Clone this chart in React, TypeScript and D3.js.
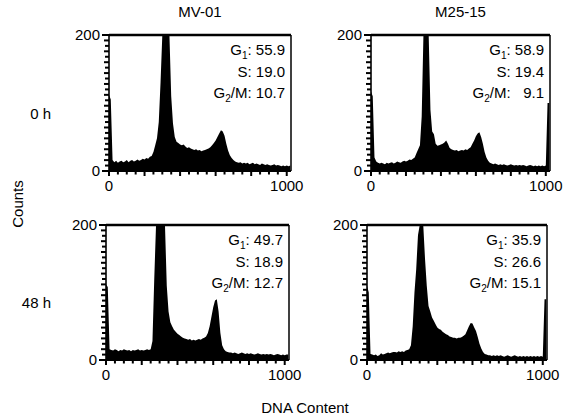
import React from "react";
import * as d3 from "d3";

// ---------- data ----------
const columnTitles = ["MV-01", "M25-15"];
const rowLabels = ["0 h", "48 h"];
const yTickLabels = ["0", "200"];
const xTickLabels = ["0", "1000"];
const binWidth = 10; // channel width of each histogram bin

const mv01_0h = [
  112, 105, 16, 13, 15, 12, 14, 15, 13, 14,
  16, 13, 15, 16, 14, 15, 17, 15, 16, 18,
  17, 19, 18, 21, 22, 28, 38, 48, 72, 130,
  210, 260, 280, 270, 230, 110, 70, 50, 43, 41,
  39, 38, 39, 36, 34, 35, 33, 32, 31, 32,
  30, 31, 29, 30, 31, 32, 33, 35, 38, 41,
  45, 50, 55, 60, 58, 52, 40, 30, 23, 19,
  16, 14, 13, 12, 13, 11, 12, 11, 12, 10,
  11, 12, 10, 11, 10, 9, 11, 10, 9, 10,
  9, 8, 9, 10, 8, 9, 8, 7, 8, 7,
  8, 7, 8,
];
const m2515_0h = [
  117, 110, 20, 14, 12, 11, 12, 11, 10, 12,
  11, 12, 13, 11, 12, 14, 13, 12, 14, 15,
  14, 15, 17, 16, 18, 20, 26, 32, 38, 80,
  220, 280, 270, 240, 90, 58, 54, 40, 37, 38,
  39, 40, 42, 45, 40, 34, 32, 31, 30, 31,
  29, 30, 31, 30, 32, 31, 33, 35, 40, 45,
  51, 55, 57, 50, 40, 28, 20, 15, 12, 11,
  10, 11, 10, 9, 10, 9, 10, 9, 8, 9,
  10, 9, 8, 9, 8, 9, 8, 9, 8, 7,
  8, 9, 8, 7, 8, 7, 8, 7, 8, 7,
  8, 100, 100,
];
const mv01_48h = [
  112, 108, 16, 15, 14, 16, 15, 13, 15, 14,
  16, 15, 14, 15, 13, 15, 14, 15, 16, 14,
  15, 14, 15, 16, 15, 16, 28, 120, 210, 260,
  290, 300, 270, 200, 110, 72, 56, 50, 45, 42,
  39, 37, 35, 33, 32, 31, 30, 31, 29, 30,
  29, 30, 31, 30, 32, 33, 35, 40, 50, 64,
  78, 88, 90, 72, 40, 22, 16, 13, 12, 11,
  11, 10, 11, 10, 9, 10, 11, 10, 9, 10,
  9, 10, 9, 8, 9, 10, 9, 8, 9, 8,
  9, 8, 9, 8, 7, 8, 9, 8, 7, 8,
  7, 8, 8,
];
const m2515_48h = [
  110, 100, 9, 8, 7, 8, 6, 7, 10, 8,
  9, 10, 11, 10, 11, 12, 12, 11, 13, 12,
  13, 12, 14, 15, 16, 22, 50, 100, 135, 185,
  230, 260, 240, 150, 110, 80, 72, 63, 58, 53,
  48, 46, 45, 42, 40, 38, 37, 35, 34, 33,
  33, 32, 33, 33, 34, 36, 38, 44, 50, 55,
  54, 48, 43, 34, 24, 17, 12, 9, 8, 7,
  7, 6, 7, 6, 7, 6, 7, 6, 5, 6,
  7, 6, 5, 6, 7, 6, 5, 6, 5, 6,
  5, 6, 5, 6, 5, 6, 5, 6, 5, 6,
  5, 90, 90,
];

const g1Values = ["55.9", "58.9", "49.7", "35.9"];
const sValues = ["19.0", "19.4", "18.9", "26.6"];
const g2mValues = ["10.7", "9.1", "12.7", "15.1"];

// ---------- layout ----------
const W = 569;
const H = 420;
const FONT = "'Liberation Sans', Arial, Helvetica, sans-serif";

type Box = { left: number; right: number; top: number; bottom: number };
const boxes: Box[] = [
  { left: 109, right: 291, top: 35, bottom: 171 },
  { left: 371, right: 550, top: 35, bottom: 171 },
  { left: 106, right: 289, top: 225, bottom: 360 },
  { left: 367, right: 547, top: 225, bottom: 360 },
];
const series = [mv01_0h, m2515_0h, mv01_48h, m2515_48h];

function Panel({ box, values, idx }: { box: Box; values: number[]; idx: number }) {
  const x = d3.scaleLinear().domain([0, 1024]).range([box.left, box.right]);
  const y = d3.scaleLinear().domain([0, 200]).range([box.bottom, box.top]);
  const pts = values.map((v, i) => ({ ch: i * binWidth, v }));
  const area = d3
    .area<{ ch: number; v: number }>()
    .x((d) => x(d.ch))
    .y0(y(0))
    .y1((d) => y(Math.min(d.v, 200)))
    .curve(d3.curveLinear);
  const yTicks = d3.range(0, 201, 8);
  const xTicks = d3.range(0, 1001, 50);
  const clipId = `clip${idx}`;
  const tx = box.right - 6;
  return (
    <g>
      <defs>
        <clipPath id={clipId}>
          <rect x={box.left} y={box.top} width={box.right - box.left} height={box.bottom - box.top} />
        </clipPath>
      </defs>
      <path d={area(pts) || ""} fill="#000" clipPath={`url(#${clipId})`} />
      {/* frame */}
      <line x1={box.left} x2={box.right} y1={box.top} y2={box.top} stroke="#000" strokeWidth={2.4} />
      <line x1={box.right} x2={box.right} y1={box.top} y2={box.bottom} stroke="#000" strokeWidth={1.5} />
      {/* left axis */}
      <line x1={box.left} x2={box.left} y1={box.top} y2={box.bottom} stroke="#000" strokeWidth={1.6} />
      {yTicks.map((t, i) => (
        <line
          key={"y" + t}
          x1={box.left}
          x2={box.left - (t === 0 || t === 200 ? 7 : i % 2 === 0 ? 5 : 4)}
          y1={y(t)}
          y2={y(t)}
          stroke="#000"
          strokeWidth={2}
        />
      ))}
      {/* bottom axis */}
      <line x1={box.left} x2={box.right} y1={box.bottom} y2={box.bottom} stroke="#000" strokeWidth={2.2} />
      {xTicks.map((t) => (
        <line
          key={"x" + t}
          x1={x(t)}
          x2={x(t)}
          y1={box.bottom}
          y2={box.bottom + (t % 200 === 0 ? 5 : 3.5)}
          stroke="#000"
          strokeWidth={2}
        />
      ))}
      <g fontFamily={FONT} fontSize={15} fill="#000">
        <text x={box.left - 9} y={y(200) + 5} textAnchor="end">{yTickLabels[1]}</text>
        <text x={box.left - 9} y={y(0) + 5} textAnchor="end">{yTickLabels[0]}</text>
        <text x={x(0)} y={box.bottom + 20} textAnchor="middle">{xTickLabels[0]}</text>
        <text x={x(1000)} y={box.bottom + 20} textAnchor="middle">{xTickLabels[1]}</text>
      </g>
      <g fontFamily={FONT} fontSize={15} fill="#000" textAnchor="end">
        <text x={tx} y={box.top + 20}>
          G<tspan fontSize={10} dy={4}>1</tspan><tspan dy={-4}>: {g1Values[idx]}</tspan>
        </text>
        <text x={tx} y={box.top + 42}>S: {sValues[idx]}</text>
        <text x={tx} y={box.top + 63} style={{ whiteSpace: "pre" }}>
          G<tspan fontSize={10} dy={4}>2</tspan><tspan dy={-4}>/M: {g2mValues[idx].length < 4 ? "  " : ""}{g2mValues[idx]}</tspan>
        </text>
      </g>
    </g>
  );
}

export default function App() {
  return (
    <svg
      width={W}
      height={H}
      viewBox={`0 0 ${W} ${H}`}
      style={{ position: "absolute", left: 0, top: 0, background: "#fff" }}
    >
      <rect x={0} y={0} width={W} height={H} fill="#fff" />
      {boxes.map((b, i) => (
        <Panel key={i} box={b} values={series[i]} idx={i} />
      ))}
      <g fontFamily={FONT} fontSize={15} fill="#000">
        <text x={(boxes[0].left + boxes[0].right) / 2} y={17} textAnchor="middle">{columnTitles[0]}</text>
        <text x={(boxes[1].left + boxes[1].right) / 2} y={17} textAnchor="middle">{columnTitles[1]}</text>
        <text x={51} y={119} textAnchor="end">{rowLabels[0]}</text>
        <text x={51} y={308} textAnchor="end">{rowLabels[1]}</text>
        <text transform="translate(23,204) rotate(-90)" textAnchor="middle">Counts</text>
        <text x={305} y={413} textAnchor="middle">DNA Content</text>
      </g>
    </svg>
  );
}
